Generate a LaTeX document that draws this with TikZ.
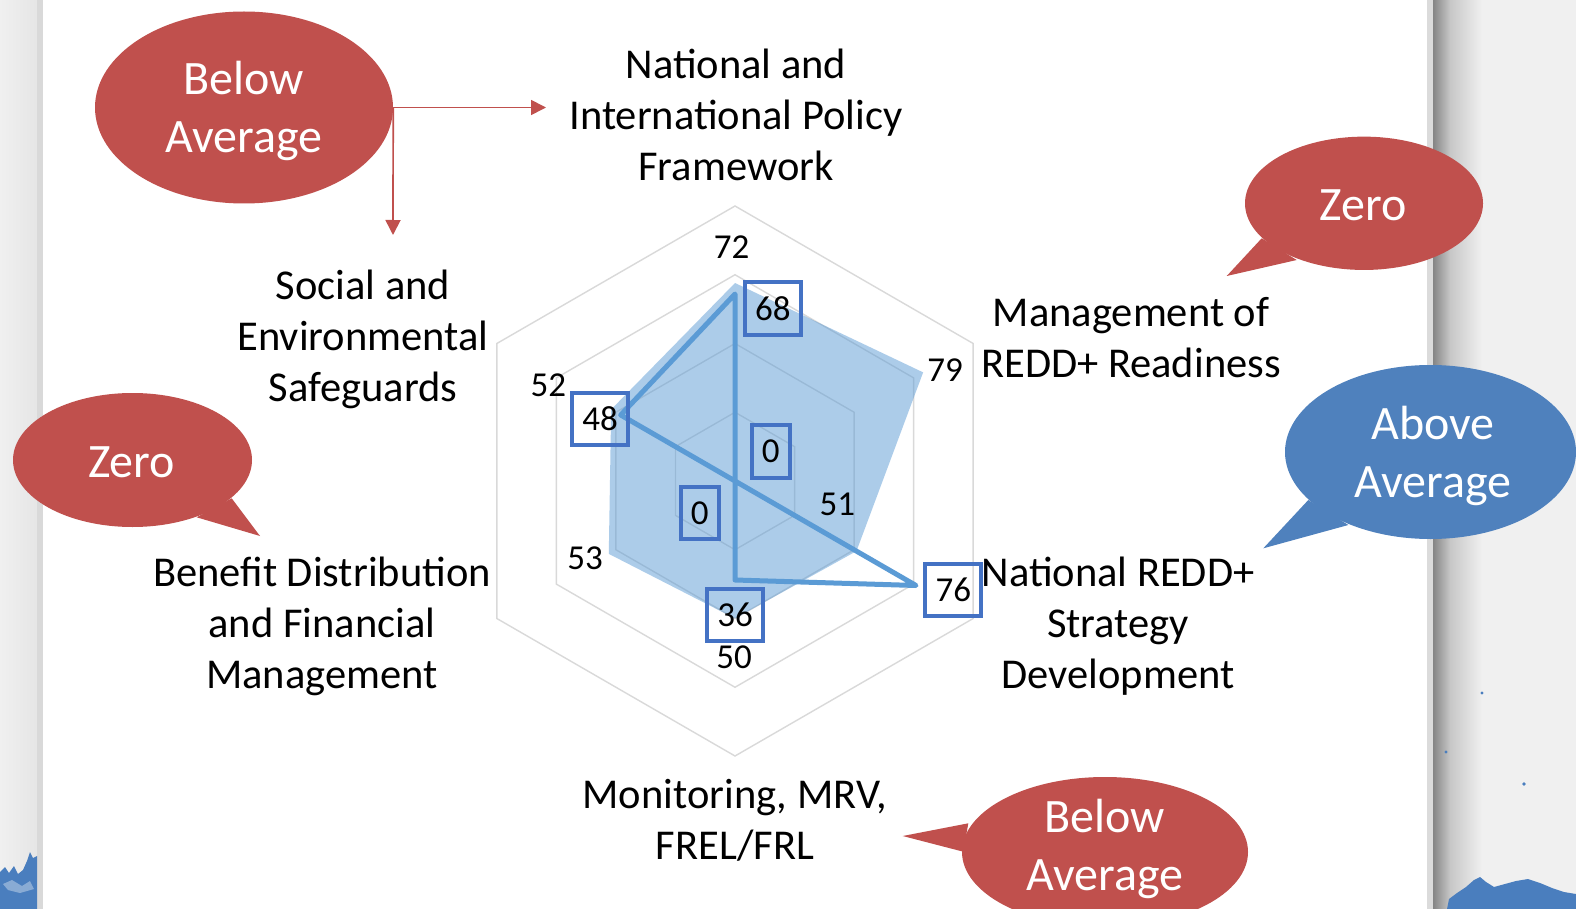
\documentclass[tikz,border=0pt]{standalone}
\usepackage{fontspec}
\setmainfont{Carlito}
\usetikzlibrary{arrows.meta,shapes.geometric}
\definecolor{balred}{HTML}{C0504D}
\definecolor{balblue}{HTML}{4F81BD}
\definecolor{serblue}{HTML}{5B9BD5}
\definecolor{boxblue}{HTML}{4472C4}
\definecolor{gridgray}{HTML}{D9D9D9}
\definecolor{bggray}{HTML}{F0F0F0}
\definecolor{splash}{HTML}{4A7EBE}
\begin{document}
\begin{tikzpicture}[x=1pt,y=-1pt,
  gridline/.style={draw=gridgray,line width=1.4pt},
  serline/.style={draw=serblue,line width=5pt,line join=round},
  axl/.style={font=\fontsize{42.5}{51}\selectfont,align=center,inner sep=0pt},
  dlab/.style={font=\fontsize{35}{40}\selectfont,inner sep=0pt},
  dbox/.style={draw=boxblue,line width=4pt,font=\fontsize{35}{40}\selectfont,
    inner xsep=10.25pt,inner ysep=0pt,minimum height=52.5pt},
  balloon/.style={ellipse,inner sep=0pt},
  baltext/.style={text=white,align=center,inner sep=0pt,
    font=\fontsize{48}{58}\selectfont},
  redarrow/.style={draw=balred,line width=1.7pt,-{Triangle[length=15pt,width=15pt]}}]
\useasboundingbox (0,0) rectangle (1576,909);
% background page
\fill[bggray] (0,0) rectangle (1576,909);
\shade[left color=bggray,right color=black!10] (0,0) rectangle (37,909);
\fill[black!15] (37,0) rectangle (43,909);
\fill[white] (43,0) rectangle (1427,909);
\fill[black!14] (1427,0) rectangle (1433,909);
\shade[left color=black!48,right color=black!22] (1433,0) rectangle (1450,909);
\shade[left color=black!22,right color=bggray] (1450,0) rectangle (1482,909);
% splashes
\fill[splash] (0,909) -- (0,872) -- (5,867) -- (9,873) -- (14,866) -- (18,874) -- (23,870)
  -- (27,861) -- (30,852) -- (33,858) -- (37,856) -- (37,909) -- cycle;
\fill[white,opacity=0.35] (3,884) -- (12,880) -- (22,886) -- (30,881) -- (34,889) -- (20,893) -- (8,890) -- cycle;
\fill[splash] (1447,909) -- (1449,899) -- (1457,893) -- (1466,887) -- (1474,880) -- (1480,877)
  -- (1486,882) -- (1494,887) -- (1505,884) -- (1516,881) -- (1528,879) -- (1540,883)
  -- (1552,888) -- (1564,892) -- (1576,894) -- (1576,909) -- cycle;
\fill[splash] (1482,693) circle (1.6) (1446,752) circle (1.6) (1524,784) circle (1.8);
% radar chart
\begin{scope}[shift={(735,481)}]
  \foreach \r in {25,50,75,100}
    \draw[gridline] (270:2.75*\r) -- (330:2.75*\r) -- (30:2.75*\r) -- (90:2.75*\r)
      -- (150:2.75*\r) -- (210:2.75*\r) -- cycle;
  \fill[serblue,fill opacity=0.5] (270:198) -- (330:217.25) -- (30:140.25) -- (90:137.5)
    -- (150:145.75) -- (210:143) -- cycle;
  \draw[serline] (270:187) -- (0,0) -- (30:209) -- (90:99) -- (0,0) -- (210:132) -- cycle;
\end{scope}
% plain data labels
\node[dlab] (v72) at (731.7,247.6) {72};
\node[dlab] (v79) at (945,370) {79};
\node[dlab] (v51) at (837.3,504) {51};
\node[dlab] (v50) at (734,657.7) {50};
\node[dlab] (v53) at (585,558) {53};
\node[dlab] (v52) at (548.3,385) {52};
% boxed data labels
\node[dbox] (b68) at (772.8,308.5) {68};
\node[dbox] (b0a) at (770.8,451.7) {0};
\node[dbox] (b76) at (953.3,590) {76};
\node[dbox] (b36) at (735,615) {36};
\node[dbox] (b0b) at (699.8,513) {0};
\node[dbox] (b48) at (600,419) {48};
% axis labels
\node[axl] (ax1) at (736,114.5) {National and\\International Policy\\Framework};
\node[axl] (ax2) at (1131,337.5) {Management of\\REDD+ Readiness};
\node[axl] (ax3) at (1118,626) {National REDD+\\Strategy\\Development};
\node[axl] (ax4) at (735,820) {Monitoring, MRV,\\FREL/FRL};
\node[axl] (ax5) at (322,626) {Benefit Distribution\\and Financial\\Management};
\node[axl] (ax6) at (363,339) {Social and\\Environmental\\Safeguards};
% balloons: tails
\fill[balred] (1261.7,238.3) -- (1226.7,276) -- (1296.7,260) -- cycle;
\fill[balblue] (1308.3,500) -- (1263.3,548.3) -- (1348.3,525) -- cycle;
\fill[balred] (231.7,498.3) -- (260,536) -- (196.7,517.3) -- cycle;
\fill[balred] (968.3,823.3) -- (902.7,836) -- (963.3,851.7) -- cycle;
% balloons: bodies
\node[balloon,fill=balred,minimum width=298pt,minimum height=192pt] (bl1) at (244,107.5) {};
\node[balloon,fill=balred,minimum width=238pt,minimum height=133.3pt] (z1) at (1364,203.3) {};
\node[balloon,fill=balblue,minimum width=291pt,minimum height=174pt] (ab1) at (1430.5,452) {};
\node[balloon,fill=balred,minimum width=239pt,minimum height=134pt] (z2) at (132.5,460) {};
\node[balloon,fill=balred,minimum width=286pt,minimum height=150pt] (bl2) at (1105,852) {};
% balloon texts
\node[baltext] (bl1t) at (244,111) {Below\\Average};
\node[baltext] (z1t) at (1363,205.5) {Zero};
\node[baltext] (ab1t) at (1433,456) {Above\\Average};
\node[baltext] (z2t) at (131.5,462) {Zero};
\node[baltext] (bl2t) at (1105,848.5) {Below\\Average};
% arrows from top-left balloon
\coordinate (ar1) at (546,107.5);
\coordinate (ar2) at (393,235);
\draw[redarrow] (bl1.east) -- (ar1);
\draw[redarrow] (bl1.east) -- (ar2);
\end{tikzpicture}
\end{document}
